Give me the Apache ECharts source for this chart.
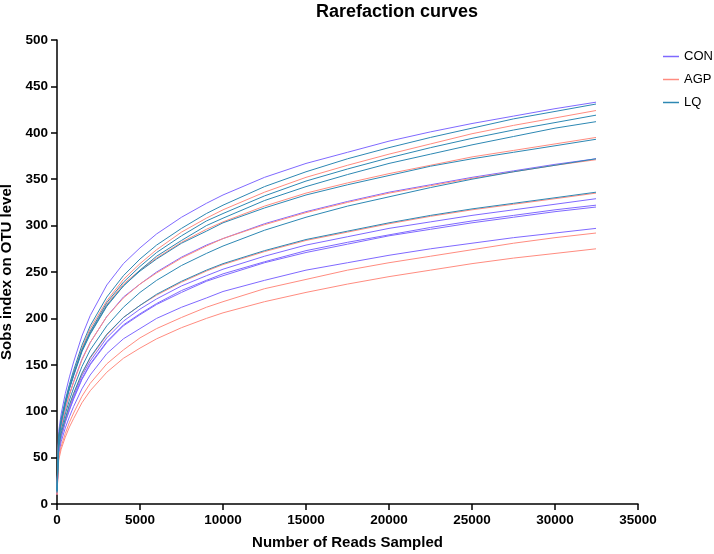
<!DOCTYPE html>
<html>
<head>
<meta charset="utf-8">
<script src="https://cdn.jsdelivr.net/npm/echarts@6/dist/echarts.min.js"></script>
<style>html,body{margin:0;padding:0;background:#fff;}#c{width:714px;height:554px;}</style>
</head>
<body>
<div id="c"></div>
<script>
// Reads sampled (x positions of the sampled points)
const reads = [0, 100, 250, 500, 750, 1000, 1500, 2000, 3000, 4000, 5000, 6000, 7500, 9000, 10000, 12500, 15000, 17500, 20000, 22500, 25000, 27500, 30000, 32470];

// CON group (purple)
const con1 = [15, 78, 97, 119, 137, 153, 181, 203, 236, 259, 276, 291, 309, 324, 333, 352, 367, 379, 391, 401, 410, 418, 426, 433];
const con2 = [13, 67, 84, 102, 118, 132, 156, 174, 202, 223, 237, 250, 266, 279, 286, 302, 315, 326, 336, 344, 352, 359, 366, 372];
const con3 = [12, 59, 74, 90, 104, 116, 138, 154, 179, 197, 210, 221, 235, 246, 253, 267, 279, 288, 297, 304, 311, 317, 323, 329];
const con4 = [11, 58, 72, 89, 102, 114, 135, 151, 175, 193, 205, 216, 230, 241, 248, 261, 273, 282, 290, 298, 305, 311, 317, 322];
const con5 = [11, 58, 72, 88, 101, 113, 134, 150, 174, 192, 204, 215, 228, 240, 246, 260, 271, 280, 289, 296, 303, 309, 315, 320];
const con6 = [10, 53, 67, 82, 94, 105, 124, 139, 162, 178, 189, 200, 212, 222, 229, 241, 252, 260, 268, 275, 281, 287, 292, 297];

// AGP group (salmon)
const agp1 = [15, 72, 90, 110, 127, 142, 168, 189, 219, 242, 259, 274, 293, 308, 317, 336, 352, 365, 377, 388, 399, 408, 416, 424];
const agp2 = [14, 71, 89, 109, 125, 140, 166, 185, 215, 237, 252, 265, 282, 296, 304, 321, 335, 346, 356, 365, 374, 381, 388, 395];
const agp3 = [13, 67, 83, 102, 118, 131, 155, 174, 202, 222, 237, 249, 265, 278, 286, 301, 314, 325, 335, 343, 351, 358, 365, 371];
const agp4 = [12, 60, 75, 92, 106, 119, 140, 157, 182, 201, 214, 225, 239, 251, 258, 272, 284, 293, 302, 310, 317, 323, 329, 335];
const agp5 = [10, 50, 62, 76, 88, 98, 116, 130, 151, 166, 179, 189, 201, 212, 218, 232, 242, 252, 260, 267, 274, 281, 287, 292];
const agp6 = [10, 47, 59, 72, 83, 92, 109, 122, 142, 157, 168, 178, 190, 200, 206, 218, 228, 237, 245, 252, 259, 265, 270, 275];

// LQ group (teal blue)
const lq1 = [15, 73, 92, 112, 129, 144, 171, 192, 223, 246, 264, 279, 297, 313, 322, 342, 358, 372, 384, 395, 405, 415, 423, 431];
const lq2 = [15, 71, 89, 109, 126, 140, 166, 186, 217, 239, 256, 271, 289, 305, 313, 332, 348, 361, 373, 384, 394, 403, 411, 419];
const lq3 = [14, 70, 88, 107, 124, 138, 164, 183, 213, 235, 252, 267, 284, 300, 308, 327, 342, 355, 367, 377, 387, 396, 405, 412];
const lq4 = [14, 71, 88, 108, 125, 139, 165, 184, 214, 235, 251, 264, 281, 294, 303, 319, 333, 344, 354, 364, 372, 379, 386, 393];
const lq5 = [13, 63, 79, 97, 112, 125, 148, 166, 192, 212, 228, 241, 257, 270, 278, 295, 309, 321, 331, 341, 350, 358, 365, 372];
const lq6 = [12, 60, 76, 92, 107, 119, 141, 158, 183, 201, 214, 226, 240, 252, 259, 273, 285, 294, 303, 311, 318, 324, 330, 336];

const groupNames = ['CON', 'AGP', 'LQ'];
const groupColors = ['#7f69ff', '#ff8c80', '#2d88b3'];
const groupCurves = [
  [con1, con2, con3, con4, con5, con6],
  [agp1, agp2, agp3, agp4, agp5, agp6],
  [lq1, lq2, lq3, lq4, lq5, lq6]
];

const xTicks = {min: 0, max: 35000, interval: 5000};
const yTicks = {min: 0, max: 500, interval: 50};

const series = [];
groupNames.forEach((name, gi) => {
  groupCurves[gi].forEach(c => {
    series.push({
      name: name,
      type: 'line',
      data: reads.map((r, i) => [r, c[i]]),
      symbol: 'none',
      smooth: false,
      color: groupColors[gi],
      lineStyle: {width: 1, color: groupColors[gi]},
      emphasis: {disabled: true},
      animation: false
    });
  });
});

const FONT = 'Liberation Sans, Arial, sans-serif';
const axisFont = {fontFamily: FONT, fontWeight: 'bold', fontSize: 13.5, color: '#000'};

const chart = echarts.init(document.getElementById('c'), null, {renderer: 'canvas'});
chart.setOption({
  animation: false,
  backgroundColor: '#fff',
  title: {
    text: 'Rarefaction curves',
    left: 397, top: 3, textAlign: 'center', padding: 0,
    textStyle: {fontFamily: FONT, fontWeight: 'bold', fontSize: 18, color: '#000'}
  },
  legend: {
    data: groupNames,
    orient: 'vertical',
    left: 663, top: 49, padding: 0,
    itemWidth: 16, itemHeight: 1.5, itemGap: 8,
    icon: 'rect',
    textStyle: {fontFamily: FONT, fontSize: 13, color: '#000', lineHeight: 15}
  },
  grid: {left: 57, right: 76, top: 40, bottom: 50, containLabel: false, outerBoundsMode: 'none'},
  xAxis: {
    type: 'value', min: xTicks.min, max: xTicks.max, interval: xTicks.interval,
    name: 'Number of Reads Sampled', nameLocation: 'middle', nameGap: 31,
    nameTextStyle: {fontFamily: FONT, fontWeight: 'bold', fontSize: 15, color: '#000'},
    axisLine: {lineStyle: {color: '#000', width: 1.5}},
    axisTick: {show: true, length: 6, lineStyle: {color: '#000', width: 1.5}},
    axisLabel: Object.assign({margin: 9, formatter: v => String(v)}, axisFont),
    splitLine: {show: false}
  },
  yAxis: {
    type: 'value', min: yTicks.min, max: yTicks.max, interval: yTicks.interval,
    name: 'Sobs index on OTU level', nameLocation: 'middle', nameGap: 41,
    nameTextStyle: {fontFamily: FONT, fontWeight: 'bold', fontSize: 15, color: '#000'},
    axisLine: {show: true, lineStyle: {color: '#000', width: 1.5}},
    axisTick: {show: true, length: 6, lineStyle: {color: '#000', width: 1.5}},
    axisLabel: Object.assign({margin: 9, formatter: v => String(v)}, axisFont),
    splitLine: {show: false}
  },
  series: series
});
</script>
</body>
</html>
